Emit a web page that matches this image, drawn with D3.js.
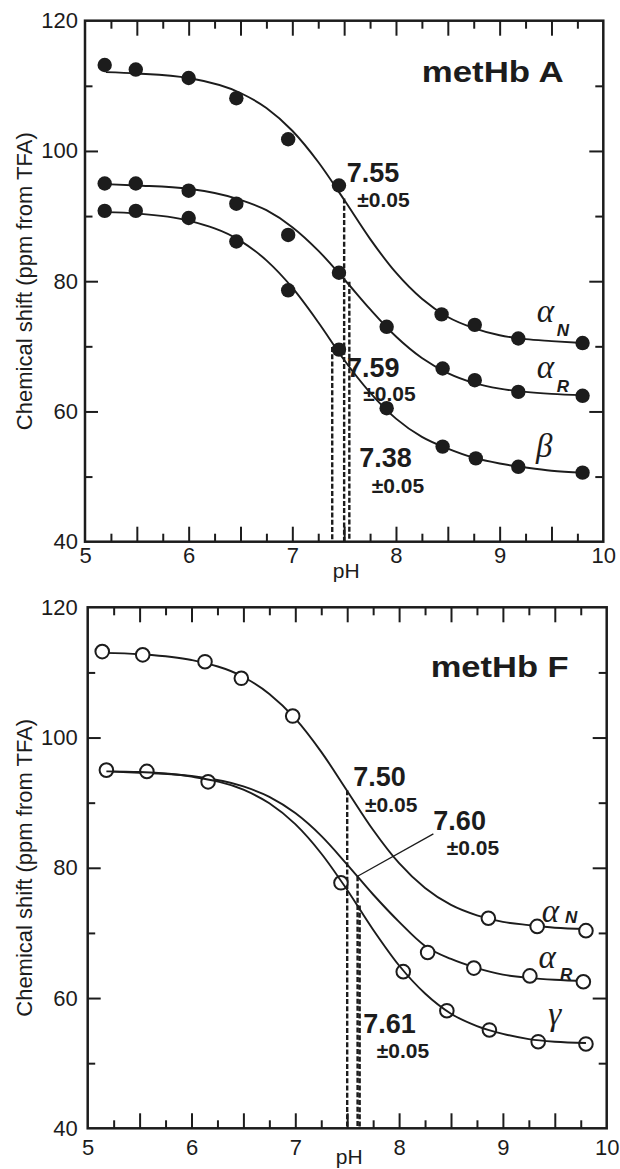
<!DOCTYPE html>
<html><head><meta charset="utf-8">
<script src="https://cdn.jsdelivr.net/npm/d3@7"></script>
<style>body{margin:0;background:#fff}svg{display:block}</style>
</head><body>
<svg id="c" width="620" height="1169"></svg>
<script>
// ---------- axis ticks ----------
const xDomain = [5, 10];
const yDomain = [40, 120];
const xLabelTicks = [5, 6, 7, 8, 9, 10];
const xMajorTicks = [5.5, 6, 6.5, 7, 7.5, 8, 8.5, 9, 9.5];
const xMinorTicks = [5.25, 5.75, 6.25, 6.75, 7.25, 7.75, 8.25, 8.75, 9.25, 9.75];
const yLabelTicks = [40, 60, 80, 100, 120];
const yMajorTicks = [60, 80, 100];
const yMinorTicks = [50, 70, 90, 110];

// ---------- metHb A (filled circles) ----------
const A_alphaN_pH    = [5.19, 5.49, 6.00, 6.46, 6.96, 7.45, 8.44, 8.76, 9.18, 9.80];
const A_alphaN_shift = [113.2, 112.5, 111.2, 108.1, 101.8, 94.7, 74.9, 73.3, 71.2, 70.5];
const A_alphaR_pH    = [5.19, 5.49, 6.00, 6.46, 6.96, 7.45, 7.91, 8.45, 8.76, 9.18, 9.80];
const A_alphaR_shift = [95.0, 95.0, 93.9, 91.9, 87.1, 81.3, 73.0, 66.6, 64.8, 63.0, 62.4];
const A_beta_pH      = [5.19, 5.49, 6.00, 6.46, 6.96, 7.45, 7.91, 8.45, 8.77, 9.18, 9.80];
const A_beta_shift   = [90.8, 90.8, 89.7, 86.1, 78.6, 69.5, 60.5, 54.6, 52.8, 51.5, 50.6];

// fitted curves of metHb A
const A_fit_pH       = [5.2, 5.5, 6.0, 6.5, 6.75, 7.0, 7.25, 7.5, 7.75, 8.0, 8.25, 8.5, 8.75, 9.0, 9.25, 9.5, 9.8];
const A_fit_alphaN   = [112.1, 111.9, 111.2, 108.9, 106.6, 103.1, 98.3, 92.5, 86.5, 81.3, 77.3, 74.5, 72.8, 71.7, 71.1, 70.8, 70.5];
const A_fit_alphaR   = [94.9, 94.7, 94.2, 92.5, 90.9, 88.3, 84.7, 80.3, 75.7, 71.5, 68.2, 65.9, 64.4, 63.5, 63.0, 62.7, 62.5];
const A_fit_beta     = [90.6, 90.4, 89.3, 86.2, 83.2, 79.0, 73.7, 67.9, 62.9, 58.9, 56.1, 54.3, 52.9, 52.0, 51.4, 50.9, 50.6];

// midpoint drop lines (pH, shift where the line starts)
const A_drop_pH      = [7.50, 7.55, 7.385];
const A_drop_shift   = [92.7, 79.9, 69.9];

// ---------- metHb F (open circles) ----------
const F_alphaN_pH    = [5.14, 5.53, 6.13, 6.48, 6.975, 8.86, 9.33, 9.80];
const F_alphaN_shift = [113.2, 112.7, 111.65, 109.1, 103.3, 72.25, 71.0, 70.35];
const F_shared_pH    = [5.18, 5.57, 6.16];
const F_shared_shift = [95.0, 94.8, 93.2];
const F_alphaR_pH    = [8.275, 8.72, 9.26, 9.775];
const F_alphaR_shift = [67.0, 64.6, 63.4, 62.5];
const F_gamma_pH     = [7.44, 8.04, 8.46, 8.87, 9.34, 9.80];
const F_gamma_shift  = [77.7, 64.05, 58.06, 55.1, 53.3, 52.95];

const F_fitN_pH      = [5.15, 5.5, 6.0, 6.5, 6.75, 7.0, 7.25, 7.5, 7.75, 8.0, 8.25, 8.5, 8.75, 9.0, 9.25, 9.5, 9.8];
const F_fit_alphaN   = [113.0, 112.8, 111.9, 109.3, 106.7, 102.9, 97.8, 91.8, 85.8, 80.7, 76.9, 74.3, 72.7, 71.7, 71.2, 70.8, 70.6];
const F_fitR_pH      = [5.18, 5.5, 6.0, 6.5, 6.75, 7.0, 7.25, 7.5, 7.75, 8.0, 8.25, 8.5, 8.75, 9.0, 9.25, 9.5, 9.8];
const F_fit_alphaR   = [94.8, 94.6, 94.1, 92.5, 90.9, 88.4, 84.9, 80.5, 75.9, 71.7, 68.0, 66.0, 64.6, 63.6, 63.1, 62.8, 62.6];
const F_fit_gamma    = [94.8, 94.7, 94.0, 92.0, 89.9, 86.7, 82.2, 76.6, 70.5, 65.0, 60.7, 57.6, 55.7, 54.5, 53.7, 53.3, 53.1];

const F_drop_pH      = [7.50, 7.60, 7.62];
const F_drop_shift   = [91.9, 78.7, 74.2];

// ---------- text ----------
const yTitle = "Chemical shift (ppm from TFA)";
const xTitle = "pH";

const INK = "#1c1c1c";
const SANS = "'Liberation Sans', Arial, Helvetica, sans-serif";
const SERIF = "'Liberation Serif', 'Times New Roman', serif";
const svg = d3.select("#c");
const zip = (a, b) => a.map((v, i) => [v, b[i]]);

function drawPanel(p) {
  const x = d3.scaleLinear().domain(xDomain).range([p.left, p.left + p.width]);
  const y = d3.scaleLinear().domain(yDomain).range([p.top + p.height, p.top]);
  const g = svg.append("g");
  const bottom = p.top + p.height, right = p.left + p.width;

  function tickAxis(gen, tr, vals, size) {
    const a = g.append("g").attr("transform", tr)
      .call(gen.tickValues(vals).tickSize(size).tickFormat(""));
    a.select(".domain").remove();
    a.selectAll("line").attr("stroke", INK).attr("stroke-width", 2);
  }
  tickAxis(d3.axisBottom(x), `translate(0,${bottom})`, xMajorTicks, -15);
  tickAxis(d3.axisBottom(x), `translate(0,${bottom})`, xMinorTicks, -8);
  tickAxis(d3.axisTop(x), `translate(0,${p.top})`, xMajorTicks, -15);
  tickAxis(d3.axisTop(x), `translate(0,${p.top})`, xMinorTicks, -8);
  tickAxis(d3.axisLeft(y), `translate(${p.left},0)`, yMajorTicks, -13);
  tickAxis(d3.axisLeft(y), `translate(${p.left},0)`, yMinorTicks, -7.5);
  tickAxis(d3.axisRight(y), `translate(${right},0)`, yMajorTicks, -14);
  tickAxis(d3.axisRight(y), `translate(${right},0)`, yMinorTicks, -8);

  const xl = g.append("g").attr("transform", `translate(0,${bottom})`)
    .call(d3.axisBottom(x).tickValues(xLabelTicks).tickSize(0).tickPadding(p.xPad).tickFormat(d3.format("d")));
  xl.select(".domain").remove();
  xl.attr("font-family", SANS).attr("font-size", 22);
  xl.selectAll("text").attr("fill", INK);
  const yl = g.append("g").attr("transform", `translate(${p.left},0)`)
    .call(d3.axisLeft(y).tickValues(yLabelTicks).tickSize(0).tickPadding(p.yPad).tickFormat(d3.format("d")));
  yl.select(".domain").remove();
  yl.attr("font-family", SANS).attr("font-size", 22);
  yl.selectAll("text").attr("fill", INK);

  g.append("rect").attr("x", p.left).attr("y", p.top).attr("width", p.width).attr("height", p.height)
    .attr("fill", "none").attr("stroke", INK).attr("stroke-width", 2.5);

  g.append("text").attr("transform", `translate(32,${(p.top + bottom) / 2}) rotate(-90)`)
    .attr("text-anchor", "middle").attr("font-family", SANS).attr("font-size", 22).attr("fill", INK).text(yTitle);
  g.append("text").attr("x", x(7.52)).attr("y", bottom + p.phDy).attr("text-anchor", "middle")
    .attr("font-family", SANS).attr("font-size", 21).attr("fill", INK).text(xTitle);

  g.selectAll(".drop").data(zip(p.dropPH, p.dropShift)).join("line")
    .attr("x1", d => x(d[0])).attr("x2", d => x(d[0]))
    .attr("y1", d => y(d[1])).attr("y2", y(40))
    .attr("stroke", INK).attr("stroke-width", 2.4).attr("stroke-dasharray", "5,2.2");

  const line = d3.line().x(d => x(d[0])).y(d => y(d[1])).curve(d3.curveMonotoneX);
  const drawCurve = c => g.append("path").attr("d", line(zip(c.pH, c.v)))
    .attr("fill", "none").attr("stroke", INK).attr("stroke-width", 1.9);
  p.curves.forEach(drawCurve);

  p.points.forEach(s => {
    g.selectAll(null).data(zip(s.pH, s.v)).join("circle")
      .attr("cx", d => x(d[0])).attr("cy", d => y(d[1])).attr("r", p.filled ? 7.2 : 6.8)
      .attr("fill", p.filled ? INK : "#fff")
      .attr("stroke", INK).attr("stroke-width", p.filled ? 0 : 2);
  });
  (p.curvesOnTop || []).forEach(drawCurve);

  (p.leaders || []).forEach(l => g.append("line")
    .attr("x1", x(l[0])).attr("y1", y(l[1])).attr("x2", x(l[2])).attr("y2", y(l[3]))
    .attr("stroke", INK).attr("stroke-width", 1.3));

  g.append("text").attr("x", x(p.title.at[0])).attr("y", y(p.title.at[1]))
    .attr("font-family", SANS).attr("font-weight", "bold").attr("font-size", 30)
    .attr("textLength", p.title.len).attr("lengthAdjust", "spacingAndGlyphs")
    .attr("fill", INK).text(p.title.text);

  p.pk.forEach(a => {
    g.append("text").attr("x", x(a.v[0])).attr("y", y(a.v[1]))
      .attr("font-family", SANS).attr("font-weight", "bold").attr("font-size", 27).attr("fill", INK).text(a.value);
    g.append("text").attr("x", x(a.e[0])).attr("y", y(a.e[1]))
      .attr("font-family", SANS).attr("font-weight", "bold").attr("font-size", 21).attr("fill", INK).text("±0.05");
  });

  p.greek.forEach(gk => {
    g.append("text").attr("x", x(gk.at[0])).attr("y", y(gk.at[1]))
      .attr("font-family", SERIF).attr("font-style", "italic").attr("font-size", 33).attr("fill", INK).text(gk.sym);
    if (gk.sub) g.append("text").attr("x", x(gk.subAt[0])).attr("y", y(gk.subAt[1]))
      .attr("font-family", SANS).attr("font-style", "italic").attr("font-weight", "bold").attr("font-size", 17)
      .attr("fill", INK).text(gk.sub);
  });
}

drawPanel({
  left: 85, top: 20.7, width: 518.3, height: 521, xPad: 6, yPad: 7, phDy: 36, filled: true,
  dropPH: A_drop_pH, dropShift: A_drop_shift,
  curves: [
    { pH: A_fit_pH, v: A_fit_alphaN },
    { pH: A_fit_pH, v: A_fit_alphaR },
    { pH: A_fit_pH, v: A_fit_beta }
  ],
  points: [
    { pH: A_alphaN_pH, v: A_alphaN_shift },
    { pH: A_alphaR_pH, v: A_alphaR_shift },
    { pH: A_beta_pH, v: A_beta_shift }
  ],
  title: { text: "metHb A", at: [8.248, 110.63], len: 142 },
  pk: [
    { value: "7.55", v: [7.525, 95.28], e: [7.627, 91.44] },
    { value: "7.59", v: [7.527, 65.34], e: [7.684, 61.65] },
    { value: "7.38", v: [7.646, 51.52], e: [7.766, 47.43] }
  ],
  greek: [
    { sym: "α", at: [9.358, 73.78], sub: "N", subAt: [9.551, 71.59] },
    { sym: "α", at: [9.358, 65.09], sub: "R", subAt: [9.551, 63.03] },
    { sym: "β", at: [9.351, 53.0] }
  ]
});

drawPanel({
  left: 87.7, top: 607.3, width: 519, height: 521, xPad: 11.5, yPad: 10, phDy: 35.5, filled: false,
  dropPH: F_drop_pH, dropShift: F_drop_shift,
  curves: [
    { pH: F_fitN_pH, v: F_fit_alphaN },
    { pH: F_fitR_pH, v: F_fit_alphaR }
  ],
  curvesOnTop: [
    { pH: F_fitR_pH, v: F_fit_gamma }
  ],
  points: [
    { pH: F_alphaN_pH, v: F_alphaN_shift },
    { pH: F_shared_pH, v: F_shared_shift },
    { pH: F_alphaR_pH, v: F_alphaR_shift },
    { pH: F_gamma_pH, v: F_gamma_shift }
  ],
  leaders: [[7.60, 78.7, 8.33, 85.2]],
  title: { text: "metHb F", at: [8.304, 109.25], len: 138 },
  pk: [
    { value: "7.50", v: [7.559, 92.56], e: [7.671, 88.61] },
    { value: "7.60", v: [8.33, 85.8], e: [8.459, 81.97] },
    { value: "7.61", v: [7.655, 54.59], e: [7.784, 50.75] }
  ],
  greek: [
    { sym: "α", at: [9.374, 71.72], sub: "N", subAt: [9.598, 71.52] },
    { sym: "α", at: [9.342, 64.57], sub: "R", subAt: [9.55, 62.77] },
    { sym: "γ", at: [9.437, 55.86] }
  ]
});
</script>
</body></html>
